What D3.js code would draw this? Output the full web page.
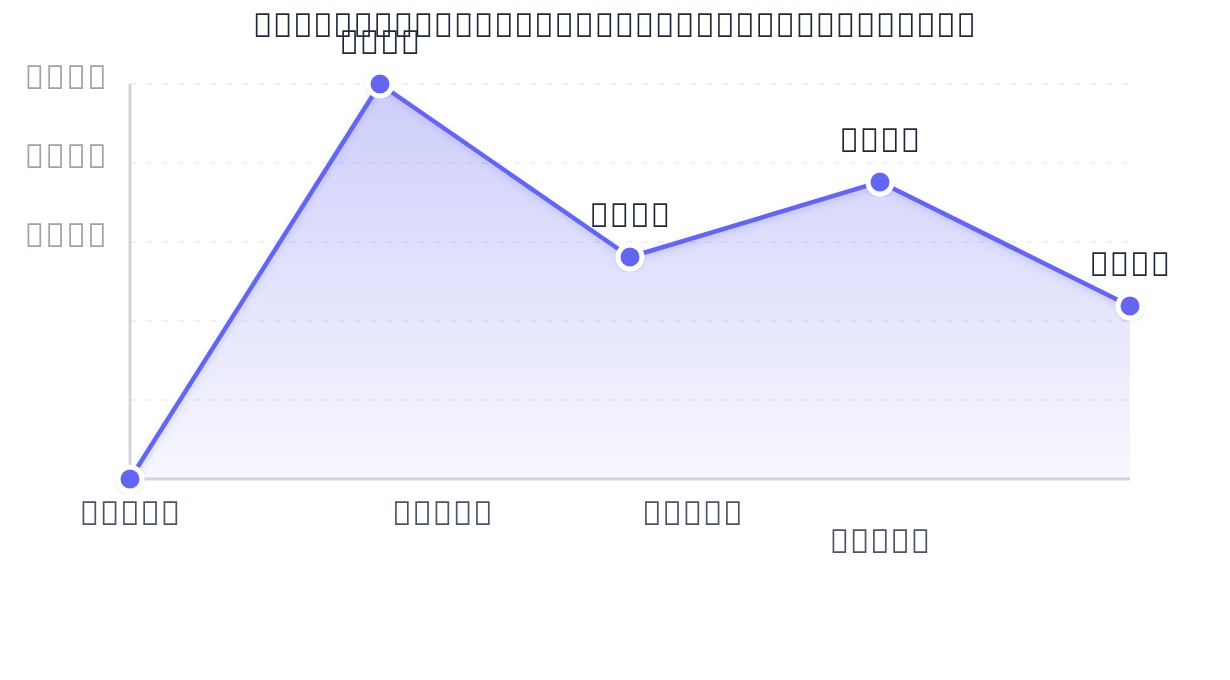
<!DOCTYPE html>
<html><head><meta charset="utf-8"><script src="https://cdn.jsdelivr.net/npm/d3@7"></script>
<style>body{margin:0;background:#fff}</style></head>
<body>
<svg id="chart" width="1230" height="680"></svg>
<script>
// Text in the reference renders as missing-glyph boxes; reproduced with code points that have no glyph.
const titleText = "\uE000\uE001\uE002\uE003\uE004\uE005\uE006\uE007\uE008\uE009\uE00A\uE00B\uE00C\uE00D\uE00E\uE00F\uE010\uE011\uE012\uE013\uE014\uE015\uE016\uE017\uE018\uE019\uE01A\uE01B\uE01C\uE01D\uE01E\uE01F\uE020\uE021\uE022\uE023";
const categories = ["c0","c1","c2","c3","c4"];
const values = [0, 5, 2.81, 3.76, 2.19];
const pointLabels = ["", "\uE030\uE031\uE032\uE033", "\uE034\uE035\uE036\uE037", "\uE038\uE039\uE03A\uE03B", "\uE03C\uE03D\uE03E\uE03F"];
const xTickLabels = ["\uE040\uE041\uE042\uE043\uE044", "\uE045\uE046\uE047\uE048\uE049", "\uE04A\uE04B\uE04C\uE04D\uE04E", "\uE04F\uE050\uE051\uE052\uE053"];
const yTickValues = [5, 4, 3];
const yTickLabels = ["\uE060\uE061\uE062\uE063", "\uE064\uE065\uE066\uE067", "\uE068\uE069\uE06A\uE06B"];
const gridValues = [0, 1, 2, 3, 4, 5];

(function () {
const svg = d3.select("#chart");
const FONT = "Noto Sans, sans-serif";
const SIZE = 33;
const mL = 130, mR = 1130, mT = 84, mB = 479;

const x = d3.scalePoint().domain(categories).range([mL, mR]).padding(0);
const y = d3.scaleLinear().domain([0, 5]).range([mB, mT]);

const defs = svg.append("defs");
const grad = defs.append("linearGradient").attr("id", "areaGrad").attr("x1", 0).attr("y1", 0).attr("x2", 0).attr("y2", 1);
grad.append("stop").attr("offset", "0%").attr("stop-color", "#6366f1").attr("stop-opacity", 0.32);
grad.append("stop").attr("offset", "100%").attr("stop-color", "#6366f1").attr("stop-opacity", 0.05);
const lf = defs.append("filter").attr("id", "lineShadow").attr("x", "-5%").attr("y", "-5%").attr("width", "110%").attr("height", "120%");
lf.append("feDropShadow").attr("dx", 0).attr("dy", 3).attr("stdDeviation", 3).attr("flood-color", "#6366f1").attr("flood-opacity", 0.25);
const pf = defs.append("filter").attr("id", "ptShadow");
pf.append("feDropShadow").attr("dx", 0).attr("dy", 1).attr("stdDeviation", 1.5).attr("flood-color", "#000").attr("flood-opacity", 0.12);

// grid
svg.append("g").selectAll("line").data(gridValues.slice(1)).join("line")
  .attr("x1", mL).attr("x2", mR)
  .attr("y1", d => y(d)).attr("y2", d => y(d))
  .attr("stroke", "#e5e7eb").attr("stroke-width", 1.5).attr("stroke-dasharray", "6,10").attr("opacity", 0.8);

const pts = categories.map((c, i) => ({c, v: values[i], label: pointLabels[i]}));
// area
svg.append("path").datum(pts)
  .attr("d", d3.area().x(d => x(d.c)).y0(mB).y1(d => y(d.v)))
  .attr("fill", "url(#areaGrad)");

// axes
svg.append("line").attr("x1", mL).attr("x2", mL).attr("y1", mT).attr("y2", mB)
  .attr("stroke", "#d1d5db").attr("stroke-width", 3);
svg.append("line").attr("x1", mL).attr("x2", mR).attr("y1", mB).attr("y2", mB)
  .attr("stroke", "#d1d5db").attr("stroke-width", 3);

// line
svg.append("path").datum(pts)
  .attr("d", d3.line().x(d => x(d.c)).y(d => y(d.v)))
  .attr("fill", "none").attr("stroke", "#6366f1").attr("stroke-width", 4.5)
  .attr("stroke-linejoin", "round").attr("filter", "url(#lineShadow)");

// points
svg.append("g").selectAll("circle").data(pts).join("circle")
  .attr("cx", d => x(d.c)).attr("cy", d => y(d.v)).attr("r", 12)
  .attr("fill", "#6366f1").attr("stroke", "#fff").attr("stroke-width", 5)
  .attr("filter", "url(#ptShadow)");

const tg = svg.append("g").attr("opacity", 0.999);

// point labels
tg.append("g").selectAll("text").data(pts.filter(d => d.label)).join("text")
  .attr("x", d => x(d.c)).attr("y", d => y(d.v) - 30)
  .attr("text-anchor", "middle").attr("font-family", FONT).attr("font-size", SIZE)
  .attr("letter-spacing", 0.6).attr("fill", "#1f2937").text(d => d.label);

// y tick labels
tg.append("g").selectAll("text").data(yTickValues).join("text")
  .attr("x", mL - 22).attr("y", d => y(d) + 5)
  .attr("text-anchor", "end").attr("font-family", FONT).attr("font-size", SIZE)
  .attr("letter-spacing", 1.1).attr("fill", "#9ca3af").text((d, i) => yTickLabels[i]);

// x tick labels (layout mimics the reference's overlap avoidance)
xTickLabels.forEach((t, i) => {
  const cx = x(categories[i]);
  let anchor = "middle", dx = 0, row = 0;
  if (i === 1 || i === 2) { anchor = "start"; dx = 12; }
  if (i === 3) { row = 1; }
  tg.append("text").attr("x", cx + dx).attr("y", mB + 46 + row * 28)
    .attr("text-anchor", anchor).attr("font-family", FONT).attr("font-size", SIZE)
    .attr("letter-spacing", 0.45).attr("fill", "#4b5563").text(t);
});

// title
tg.append("text").attr("x", 614.5).attr("y", 37).attr("text-anchor", "middle")
  .attr("font-family", FONT).attr("font-size", SIZE).attr("letter-spacing", 0.3)
  .attr("fill", "#1f2937").text(titleText);
})();
</script></body></html>
